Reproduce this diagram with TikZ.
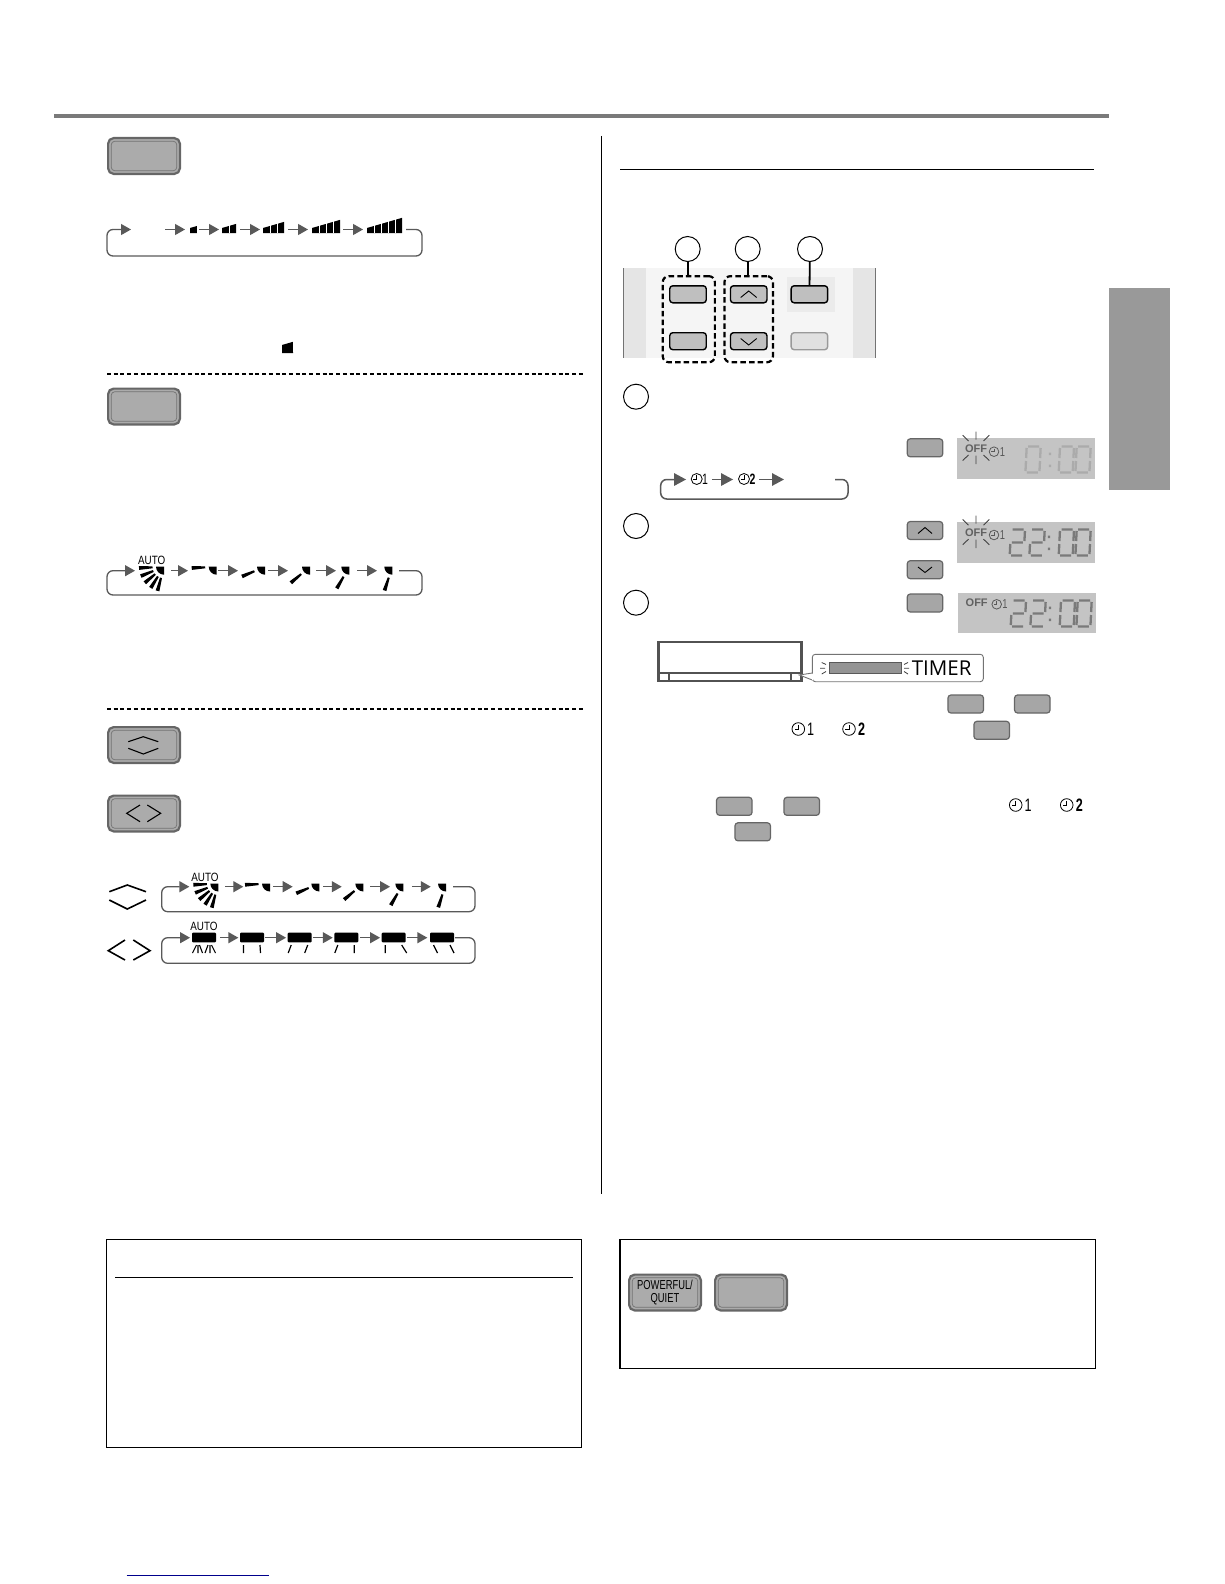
\documentclass[tikz,border=0pt]{standalone}
\usepackage{fontspec}
\setmainfont{Liberation Sans}
\newfontfamily\lampfont{Open Sans}
\usetikzlibrary{arrows.meta,positioning}

\begin{document}
\begin{tikzpicture}[x=1pt,y=-1pt,node distance=46.9pt and 60.7pt,on grid,
        every node/.style={inner sep=0pt,outer sep=0pt},
        slot/.style={minimum height=1pt},
        rc button/.style={draw=black!60,fill=black!33,line width=2.2pt,
            rounded corners=5.5pt,minimum width=71.8pt,minimum height=35.8pt,
            label={[draw=black!55,line width=.7pt,rounded corners=3.5pt,minimum width=65.5pt,minimum height=29.5pt]center:{}}},
        flat button/.style={draw=black!60,fill=black!35,line width=1.2pt,rounded corners=3pt,
            minimum width=35.5pt,minimum height=18pt},
        panel button/.style={draw=black,fill=black!25,line width=1.4pt,rounded corners=3pt,
            minimum width=36.5pt,minimum height=17pt},
        group box/.style={draw=black,line width=2.2pt,dash pattern=on 5.5pt off 3.2pt,rounded corners=6pt},
        badge/.style={circle,draw=black,line width=1pt,fill=white,minimum size=25pt},
        lead/.style={draw=black,line width=1.8pt},
        divider/.style={draw=black,line width=1.3pt,dash pattern=on 4pt off 2.74pt},
        cycle arrow/.style={draw=black!65,line width=1.3pt,rounded corners=6pt,
            -{Triangle[length=10pt,width=11pt,fill=black!65]}},
        timer arrow/.style={cycle arrow,line width=1.5pt,-{Triangle[length=12pt,width=12.5pt,fill=black!65]}},
        chev/.style={draw=black,line width=.9pt},
        key chev/.style={draw=black,line width=1.1pt},
        big chev/.style={draw=black,line width=1.6pt},
        ray/.style={draw=black!75,line width=.9pt},
        lcd/.style={fill=black!23},
        lcd faint/.style={color=black!33},
        lcd dark/.style={color=black!52},
        auto label/.style={font=\fontsize{12}{12}\selectfont,xscale=.82,transform shape},
        timer digit/.style={font=\fontsize{15}{15}\selectfont,xscale=.7,transform shape},
        note digit/.style={font=\fontsize{18}{18}\selectfont,xscale=.7,transform shape},
        lcd digit/.style={font=\fontsize{13}{13}\selectfont,xscale=.72,transform shape,text=black!65},
        off label/.style={font=\fontsize{11}{11}\bfseries\selectfont,text=black!62},
        pics/speed/.style={code={
            \fill (0,0) -- (0,-5) -- (#1,{-5-.29*#1}) -- (#1,0) -- cycle;
            \draw[white,line width=.8pt,xstep=7,ystep=100] (.5,-.5) grid (#1-.5,-20);
        }},
        pics/blade/.style={code={
            \fill[rotate=#1] (-11.5,-1) -- (-25,-1.9) -- (-25,1.9) -- (-11.5,1) -- cycle;
        }},
        pics/vane/.style={code={
            \fill (0,0) -- (-8,0) .. controls (-8,4.4) and (-4.4,8) .. (0,8) -- cycle;
            \pic {blade=#1};
        }},
        pics/fan/.style={code={
            \pic {vane=3}; \pic {blade=22}; \pic {blade=40}; \pic {blade=58}; \pic {blade=75};
        }},
        pics/unit/.style 2 args={code={
            \fill[rounded corners=1pt] (-12,-4.8) rectangle (12,4.8);
            \draw[line width=1.2pt] (-8.5,7.5) -- (-8.5+#1,15.5) (8,7.5) -- (8+#2,15.5);
        }},
        pics/unit auto/.style={code={
            \fill[rounded corners=1pt] (-12,-4.8) rectangle (12,4.8);
            \draw[line width=1.1pt] (-7.5,7.5) -- (-11.5,15.5) (-6,7.5) -- (-6,15.5) (-4.5,7.5) -- (-1.5,15.5)
                (4,7.5) -- (1,15.5) (6,7.5) -- (6,15.5) (7.5,7.5) -- (11.5,15.5);
        }},
        pics/clock/.style={code={
            \draw[line width=.8pt] (0,0) circle [radius=#1];
            \draw[line width=.8pt] (0,-#1*.65) -- (0,0) -- (-#1*.6,0);
        }},
        pics/lcd zero/.style={code={
            \draw[line width=2.3pt,xslant=.05] (1.5,0) -- (12.5,0) (14,1.5) -- (14,11.5) (14,14.5) -- (14,24.5)
                (1.5,26) -- (12.5,26) (0,1.5) -- (0,11.5) (0,14.5) -- (0,24.5);
        }},
        pics/lcd two/.style={code={
            \draw[line width=2.3pt,xslant=.05] (1.5,0) -- (12.5,0) (14,1.5) -- (14,11.5) (1.5,13) -- (12.5,13)
                (0,14.5) -- (0,24.5) (1.5,26) -- (12.5,26);
        }},
        pics/lcd colon/.style={code={
            \fill (-1.2,6) rectangle (1.2,8.5) (-1.2,18) rectangle (1.2,20.5);
        }},
        pics/off rays/.style={code={
            \draw[ray] (0,-17) -- (0,-9) (0,7) -- (0,15.5) (-13.3,-13.3) -- (-7.5,-7.5) (13.3,-13.3) -- (7.5,-7.5)
                (-13.3,12) -- (-7.5,6.5) (13.3,12) -- (7.5,6.5);
        }}]
    \useasboundingbox (0,0) rectangle (1224,1584);

    % page frame
    \fill[black!52] (53.5,114) rectangle (1109,118);
    \fill[black!40] (1109,288) rectangle (1170,490);
    \draw[line width=1pt] (601.5,136) -- (601.5,1194);
    \draw[line width=.8pt] (620,169.7) -- (1094,169.7);
    \coordinate (div_a) at (107,374);
    \coordinate (div_b) at (582.7,374);
    \coordinate (div_c) at (107,709);
    \coordinate (div_d) at (582.7,709);
    \draw[divider] (div_a) -- (div_b);
    \draw[divider] (div_c) -- (div_d);

    % buttons, left column
    \node[rc button] (btn_fan) at (144,156) {};
    \node[rc button] (btn_air) at (144,406.5) {};
    \node[rc button] (btn_ud) at (144,745) {};
    \node[rc button] (btn_lr) at (144,813.5) {};
    \draw[key chev] (128.3,741.7) -- (143.3,736.7) -- (158.3,741.7);
    \draw[key chev] (128.3,748.3) -- (143.3,754) -- (158.3,748.3);
    \draw[key chev] (140,805) -- (126.7,813.3) -- (140,821.7);
    \draw[key chev] (147.3,805) -- (160.7,813.3) -- (147.3,821.7);

    % fan speed cycle
    \node[slot,minimum width=34] (spd_0) at (148,229.5) {};
    \node[slot,minimum width=14] (spd_1) at (192,229.5) {};
    \node[slot,minimum width=21] (spd_2) at (229.5,229.5) {};
    \node[slot,minimum width=28] (spd_3) at (274,229.5) {};
    \node[slot,minimum width=35] (spd_4) at (325.5,229.5) {};
    \node[slot,minimum width=43] (spd_5) at (384.5,229.5) {};
    \coordinate (spd_corner) at (422,256);
    \coordinate (spd_back) at (107,229.5);
    \pic at (190,233) {speed=7};
    \pic at (222,233) {speed=14};
    \pic at (263,233) {speed=21};
    \pic at (312,233) {speed=28};
    \pic at (367,233) {speed=35};
    \pic[scale=1.6] at (282,353) {speed=7};
    \path[cycle arrow]
        (spd_0) edge (spd_1)
        (spd_1) edge (spd_2)
        (spd_2) edge (spd_3)
        (spd_3) edge (spd_4)
        (spd_4) edge (spd_5);
    \draw[cycle arrow] (spd_5.east) -| (spd_corner) -| (spd_back) -- (spd_0.west);

    % airflow cycle
    \node[slot,minimum width=36] (sw_0) at (153,570.7) {};
    \node[slot,minimum width=30] (sw_1) at (203,570.7) {};
    \node[slot,minimum width=30] (sw_2) at (253,570.7) {};
    \node[slot,minimum width=28] (sw_3) at (302,570.7) {};
    \node[slot,minimum width=21] (sw_4) at (346.5,570.7) {};
    \node[slot,minimum width=22] (sw_5) at (388,570.7) {};
    \coordinate (sw_corner) at (422,595);
    \coordinate (sw_back) at (107,570.7);
    \node[auto label] (auto_a) at (151.7,560.5) {AUTO};
    \pic at (164,566.7) {fan};
    \pic at (216.7,566.7) {vane=3};
    \pic at (265,566.7) {vane=23};
    \pic at (310,566.7) {vane=40};
    \pic at (349.3,566.7) {vane=60};
    \pic at (392.3,566.7) {vane=72};
    \path[cycle arrow]
        (sw_0) edge (sw_1)
        (sw_1) edge (sw_2)
        (sw_2) edge (sw_3)
        (sw_3) edge (sw_4)
        (sw_4) edge (sw_5);
    \draw[cycle arrow] (sw_5.east) -| (sw_corner) -| (sw_back) -- (sw_0.west);

    % up and down cycle
    \draw[big chev] (109.3,891.7) -- (127.3,885) -- (146,891.7);
    \draw[big chev] (109.3,900) -- (127.3,909) -- (146,900);
    \node[slot,minimum width=35.7] (ud_0) at (207.2,886.7) {};
    \node[slot,minimum width=30] (ud_1) at (258.3,886.7) {};
    \node[slot,minimum width=30.6] (ud_2) at (308,886.7) {};
    \node[slot,minimum width=28.3] (ud_3) at (355.9,886.7) {};
    \node[slot,minimum width=21.7] (ud_4) at (400.9,886.7) {};
    \node[slot,minimum width=22.3] (ud_5) at (441.9,886.7) {};
    \coordinate (ud_corner) at (475,911.7);
    \coordinate (ud_back) at (161.7,886.7);
    \node[auto label] (auto_b) at (205,877) {AUTO};
    \pic at (218.3,883.5) {fan};
    \pic at (270,883.5) {vane=3};
    \pic at (319.3,883.5) {vane=23};
    \pic at (363.3,883.5) {vane=40};
    \pic at (403.3,883.5) {vane=60};
    \pic at (446,883.5) {vane=72};
    \path[cycle arrow]
        (ud_0) edge (ud_1)
        (ud_1) edge (ud_2)
        (ud_2) edge (ud_3)
        (ud_3) edge (ud_4)
        (ud_4) edge (ud_5);
    \draw[cycle arrow] (ud_5.east) -| (ud_corner) -| (ud_back) -- (ud_0.west);

    % left and right cycle
    \draw[big chev] (125,940) -- (108.3,950.7) -- (125,960);
    \draw[big chev] (133.3,940) -- (150,950.7) -- (133.3,960);
    \node[slot,minimum width=30] (lr_0) at (205,937.7) {};
    \node[slot,minimum width=26.7] (lr_1) at (251.7,937.7) {};
    \node[slot,minimum width=26.7] (lr_2) at (299.4,937.7) {};
    \node[slot,minimum width=27.3] (lr_3) at (346.4,937.7) {};
    \node[slot,minimum width=26.7] (lr_4) at (393.4,937.7) {};
    \node[slot,minimum width=27.7] (lr_5) at (441.2,937.7) {};
    \coordinate (lr_corner) at (475,963.3);
    \coordinate (lr_back) at (161.7,937.7);
    \node[auto label] (auto_c) at (204,926.7) {AUTO};
    \pic at (204,937.5) {unit auto};
    \pic at (252,937.5) {unit={0}{.5}};
    \pic at (299.7,937.5) {unit={-3}{-3}};
    \pic at (346.3,937.5) {unit={-3}{0}};
    \pic at (393.7,937.5) {unit={0}{5}};
    \pic at (442,937.5) {unit={4}{4}};
    \path[cycle arrow]
        (lr_0) edge (lr_1)
        (lr_1) edge (lr_2)
        (lr_2) edge (lr_3)
        (lr_3) edge (lr_4)
        (lr_4) edge (lr_5);
    \draw[cycle arrow] (lr_5.east) -| (lr_corner) -| (lr_back) -- (lr_0.west);

    % remote control panel
    \fill[black!4] (623.3,268.3) rectangle (875,358.3);
    \fill[black!10] (623.3,268.3) rectangle (646,358.3);
    \fill[black!10] (853,268.3) rectangle (875,358.3);
    \fill[black!8] (786.7,276.7) rectangle (835,311.7);
    \draw[black!55,line width=.9pt] (623.3,268.3) -- (623.3,358.3) (875,268.3) -- (875,358.3);
    \node[panel button] (rc_on) at (688,294.3) {};
    \node[panel button] (rc_off) [below=of rc_on] {};
    \node[panel button] (rc_up) [right=of rc_on] {};
    \node[panel button] (rc_dn) [below=of rc_up] {};
    \node[panel button] (rc_set) [right=of rc_up] {};
    \node[panel button,draw=black!40,fill=black!12] (rc_can) [below=of rc_set] {};
    \draw[chev] (740.7,297.5) -- (748.7,291) -- (756.7,297.5);
    \draw[chev] (740.7,338.5) -- (748.7,345) -- (756.7,338.5);
    \node[group box,minimum width=52.1,minimum height=86.1] (grp_a) at (688.8,319.2) {};
    \node[group box,minimum width=48.5,minimum height=86.1] (grp_b) at (748.7,319.2) {};
    \node[badge] (num_a) at (687.7,249) {};
    \node[badge] (num_b) at (747.7,249) {};
    \node[badge] (num_c) at (810,249) {};
    \draw[lead] (num_a) -- (grp_a);
    \draw[lead] (num_b) -- (grp_b);
    \draw[lead] (num_c) -- (rc_set);

    % timer steps
    \node[badge] (step_a) at (636,396.7) {};
    \node[badge] (step_b) at (636,526) {};
    \node[badge] (step_c) at (636,602.7) {};
    \node[slot,minimum width=25.7] (tm_0) at (698.9,479.5) {};
    \node[slot,minimum width=26.3] (tm_1) at (746.2,479.5) {};
    \node[slot,minimum width=51] (tm_2) at (809.5,479.5) {};
    \coordinate (tm_corner) at (848,499);
    \coordinate (tm_back) at (660.7,479.5);
    \pic at (696.7,479) {clock=5.5};
    \node[timer digit] (tm_one) at (705,479.5) {1};
    \pic at (744,479) {clock=5.5};
    \node[timer digit,font=\fontsize{15}{15}\bfseries\selectfont] (tm_two) at (752.5,479.5) {2};
    \path[timer arrow]
        (tm_0) edge (tm_1)
        (tm_1) edge (tm_2);
    \draw[timer arrow] (tm_2.east) -| (tm_corner) -| (tm_back) -- (tm_0.west);

    \node[flat button] (key_a) at (925,447.8) {};
    \node[flat button] (key_b) at (925,530.5) {};
    \node[flat button] (key_c) at (925,569.7) {};
    \node[flat button] (key_d) at (925,603) {};
    \draw[chev] (918,533.5) -- (925,527.5) -- (932,533.5);
    \draw[chev] (918,567) -- (925,572.5) -- (932,567);

    % displays
    \fill[lcd] (956.7,438) rectangle (1095,479);
    \fill[lcd] (956.7,521.7) rectangle (1095,562.7);
    \fill[lcd] (958,593.3) rectangle (1096,632.7);
    \node[off label] (off_a) at (976,448.5) {OFF};
    \pic at (976,448.5) {off rays};
    \pic[black!65] at (994,451.7) {clock=4.8};
    \node[lcd digit] (off_a1) at (1002.5,451.7) {1};
    \pic[lcd faint] at (1026.7,446.5) {lcd zero};
    \pic[lcd faint] at (1050,446.5) {lcd colon};
    \pic[lcd faint] at (1060,446.5) {lcd zero};
    \pic[lcd faint] at (1076.7,446.5) {lcd zero};
    \node[off label] (off_b) at (976,532.7) {OFF};
    \pic at (976,532.7) {off rays};
    \pic[black!65] at (994,535) {clock=4.8};
    \node[lcd digit] (off_b1) at (1002.5,535) {1};
    \pic[lcd dark] at (1011,529.5) {lcd two};
    \pic[lcd dark] at (1030.7,529.5) {lcd two};
    \pic[lcd dark] at (1049,529.5) {lcd colon};
    \pic[lcd dark] at (1060,529.5) {lcd zero};
    \pic[lcd dark] at (1076.7,529.5) {lcd zero};
    \node[off label] (off_c) at (976.7,602.7) {OFF};
    \pic[black!65] at (996.7,604.3) {clock=4.8};
    \node[lcd digit] (off_c1) at (1005,604.3) {1};
    \pic[lcd dark] at (1012,600.5) {lcd two};
    \pic[lcd dark] at (1031.7,600.5) {lcd two};
    \pic[lcd dark] at (1050,600.5) {lcd colon};
    \pic[lcd dark] at (1061,600.5) {lcd zero};
    \pic[lcd dark] at (1077.7,600.5) {lcd zero};

    % indoor unit and timer lamp
    \draw[black!68,line width=2.3pt] (658.5,641.8) rectangle (801.5,681.2)
        (658.5,672.7) -- (801.5,672.7) (669.3,672.7) -- (669.3,681.2) (790.7,672.7) -- (790.7,681.2);
    \node[draw=black!55,fill=white,line width=.9pt,rounded corners=3pt,minimum width=171,minimum height=27.4] (lamp) at (897.8,668) {};
    \coordinate (lamp_tip) at (799.3,675);
    \draw[black!55,line width=.9pt,fill=white] (812.3,673) -- (lamp_tip) -- (812.3,680);
    \draw[white,line width=1.2pt] (812.3,673.5) -- (812.3,679.5);
    \node[draw=black!65,fill=black!42,line width=.7pt,minimum width=72,minimum height=11] (lamp_bar) at (865.5,667.8) {};
    \draw[ray,line width=.8pt] (821.7,662.5) -- (826,664.5) (820,668.3) -- (825,668.3) (821.7,674) -- (826,671.5)
        (908,662.5) -- (904,664.5) (909,668.3) -- (904,668.3) (908,674) -- (904,671.5);
    \node[font=\lampfont\fontsize{20.5}{20.5}\selectfont] (lamp_text) at (941.7,668.5) {TIMER};

    % keys and symbols in the notes
    \node[flat button] (key_e) at (965.7,704) {};
    \node[flat button] (key_f) at (1032.3,704) {};
    \node[flat button] (key_g) at (991.7,730.3) {};
    \node[flat button] (key_h) at (734.3,806.3) {};
    \node[flat button] (key_i) at (801.7,806.3) {};
    \node[flat button] (key_j) at (752.7,831.8) {};
    \pic at (798.3,729) {clock=6.3};
    \node[note digit] (note_a1) at (810.7,729.5) {1};
    \pic at (849,729) {clock=6.3};
    \node[note digit,font=\fontsize{18}{18}\bfseries\selectfont] (note_a2) at (861.7,729.5) {2};
    \pic at (1015.7,805) {clock=6.3};
    \node[note digit] (note_b1) at (1028,805.5) {1};
    \pic at (1066.7,805) {clock=6.3};
    \node[note digit,font=\fontsize{18}{18}\bfseries\selectfont] (note_b2) at (1079.3,805.5) {2};

    % boxes at the foot
    \node[draw=black,line width=1pt,minimum width=475,minimum height=208] (box_left) at (343.5,1343) {};
    \draw[line width=.8pt] (115,1277.5) -- (573,1277.5);
    \node[draw=black,line width=1.2pt,minimum width=475.8,minimum height=129] (box_right) at (857.9,1303.8) {};
    \node[rc button] (btn_pq) at (665,1292.5) {};
    \node[rc button] (btn_ion) at (751,1292.5) {};
    \node[font=\fontsize{13}{13.3}\selectfont,align=center,xscale=.72,transform shape] (btn_pq_text) at (665,1292.5) {POWERFUL/\\QUIET};
    \draw[blue!55!black,line width=1pt] (126.7,1575) -- (269,1575);
\end{tikzpicture}
\end{document}
